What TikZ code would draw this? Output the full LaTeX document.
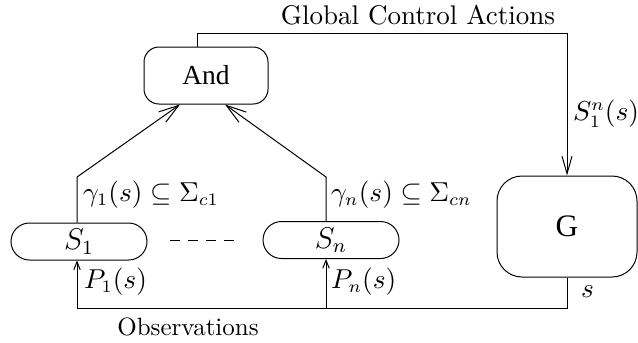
\documentclass[tikz,border=0pt]{standalone}
\usepackage{amsmath}
\usepackage{fontspec}
\newfontfamily\boxfont{Liberation Serif}
\usetikzlibrary{arrows.meta,calc}

\tikzset{
    blockbox/.style={draw, rounded corners=#1, inner sep=0pt},
    pill/.style={blockbox=7.4pt, minimum width=54.4pt, minimum height=14.8pt, font=\fontsize{12}{14}\selectfont},
    lbl/.style={anchor=west, inner sep=1pt, font=\fontsize{10.5}{12}\selectfont},
}

\begin{document}
\begin{tikzpicture}[x=0.4pt, y=-0.4pt, line width=0.4pt]
    \useasboundingbox (0,0) rectangle (638,342);
    \node[blockbox=6pt, minimum width=49.6pt, minimum height=22.8pt] (and) at (206,75.5) {\boxfont\fontsize{11}{13}\selectfont And};
    \node[pill] (s1) at (79,241.5) {$S_1$\hspace{8pt}};
    \node[pill] (sn) at (331,240) {$S_n$\hspace{8pt}};
    \node[blockbox=10pt, minimum width=56pt, minimum height=40.4pt] (gbox) at (567,226.5) {\boxfont\fontsize{12.5}{14}\selectfont G};
    \coordinate (ctl) at (197,33);
    \coordinate (k1) at (77,177);
    \coordinate (kn) at (326,177);
    \coordinate (fb) at (0,308);
    \draw[-{Straight Barb[length=7pt,width=4pt]}] (and.north -| ctl) -- (ctl) -| (gbox.north);
    \node[font=\fontsize{10.8}{12}\selectfont] (gca) at (418,15) {Global Control Actions};
    \node[lbl] (san) at (570,114) {$S_1^n(s)$};
    \draw[-{Straight Barb[length=8pt,width=5pt]}] (s1.north -| k1) -- (k1) -- ($(and.south)+(-26,0)$);
    \draw[-{Straight Barb[length=8pt,width=5pt]}] (sn.north -| kn) -- (kn) -- ($(and.south)+(19,0)$);
    \node[lbl] (g1) at (80,195) {$\gamma_1(s)\subseteq\Sigma_{c1}$};
    \node[lbl] (gn) at (328,195) {$\gamma_n(s)\subseteq\Sigma_{cn}$};
    \draw[dash pattern=on 4pt off 3.2pt] (170,240) -- (237,240);
    \draw[-{Straight Barb[length=3.2pt,width=2.6pt]}] (gbox.south) -- (gbox.south |- fb) -- (k1 |- fb) -- (s1.south -| k1);
    \draw[-{Straight Barb[length=3.2pt,width=2.6pt]}] (kn |- fb) -- (sn.south -| kn);
    \node[lbl] (p1) at (81,282) {$P_1(s)$};
    \node[lbl] (pn) at (328,282) {$P_n(s)$};
    \node[lbl] (sl) at (578,292) {$s$};
    \node (obs) at (188,327) {Observations};
\end{tikzpicture}
\end{document}
